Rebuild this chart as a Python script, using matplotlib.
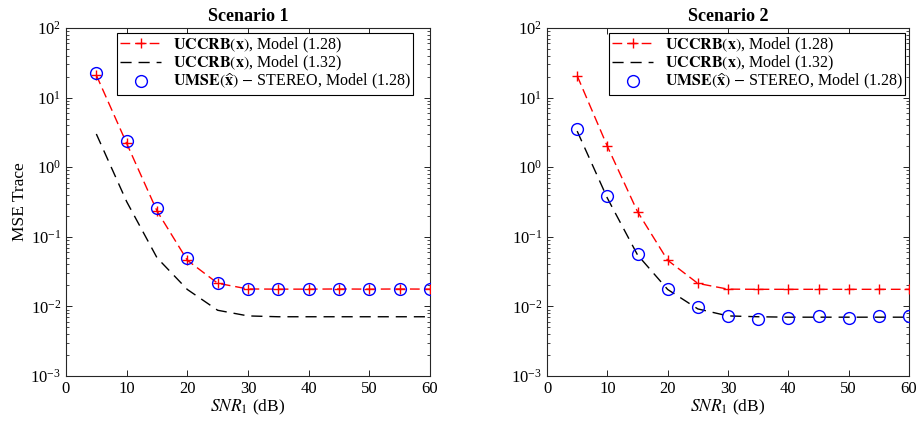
import matplotlib
matplotlib.use("Agg")
import matplotlib.pyplot as plt
from matplotlib.ticker import LogLocator, NullFormatter, FixedLocator

plt.rcParams['font.family'] = ['Liberation Serif', 'DejaVu Serif']
plt.rcParams['mathtext.fontset'] = 'stix'

snr = [5, 10, 15, 20, 25, 30, 35, 40, 45, 50, 55, 60]

# Scenario 1
red_1 = [21, 2.2, 0.235, 0.046, 0.0215, 0.0178, 0.0177, 0.0177, 0.0178, 0.0177, 0.0178, 0.0177]
black_1 = [3.0, 0.32, 0.050, 0.0175, 0.0088, 0.0073, 0.0071, 0.0071, 0.0071, 0.0071, 0.0071, 0.0071]
blue_1 = [22.5, 2.35, 0.257, 0.050, 0.0220, 0.0178, 0.0178, 0.0177, 0.0178, 0.0177, 0.0178, 0.0177]

# Scenario 2
red_2 = [20.6, 2.0, 0.23, 0.046, 0.0214, 0.0177, 0.0176, 0.0176, 0.0176, 0.0176, 0.0176, 0.0176]
black_2 = [3.3, 0.36, 0.055, 0.0175, 0.0092, 0.0073, 0.0071, 0.0070, 0.0070, 0.0070, 0.0070, 0.0070]
blue_2 = [3.56, 0.38, 0.057, 0.018, 0.0098, 0.0073, 0.0066, 0.0069, 0.0074, 0.0069, 0.0074, 0.0073]

titles = ["Scenario 1", "Scenario 2"]
labels = [r"$\mathbf{UCCRB}(\mathbf{x})$, Model (1.28)",
          r"$\mathbf{UCCRB}(\mathbf{x})$, Model (1.32)",
          r"$\mathbf{UMSE}(\widehat{\mathbf{x}})$ $-$ STEREO, Model (1.28)"]
xticks = [0, 10, 20, 30, 40, 50, 60]

W, H = 918, 425
fig = plt.figure(figsize=(W / 100, H / 100), dpi=100)

axes_px = [(66, 430), (547, 909)]
top, bottom = 28, 376
legend_anchor = [(413, 33), (905, 33)]

datasets = [(red_1, black_1, blue_1), (red_2, black_2, blue_2)]

for i, ((x0, x1), (red, black, blue)) in enumerate(zip(axes_px, datasets)):
    ax = fig.add_axes([x0 / W, (H - bottom) / H, (x1 - x0) / W, (bottom - top) / H])
    ax.semilogy(snr, red, color='red', linestyle=(0, (7, 3.5)), lw=1.0,
                marker='+', markersize=6.5, markeredgewidth=1.0, label=labels[0], zorder=3)
    ax.semilogy(snr, black, color='black', linestyle=(0, (8, 5)), lw=1.0,
                label=labels[1], zorder=2)
    ax.semilogy(snr, blue, linestyle='none', marker='o', markersize=8.5,
                markerfacecolor='none', markeredgecolor='blue', markeredgewidth=1.0,
                label=labels[2], zorder=4)
    ax.set_xlim(0, 60)
    ax.set_ylim(1e-3, 1e2)
    ax.xaxis.set_major_locator(FixedLocator(xticks))
    ax.set_xticklabels([str(t) for t in xticks])
    ax.yaxis.set_major_locator(LogLocator(base=10, numticks=10))
    ax.yaxis.set_minor_locator(LogLocator(base=10, subs=range(2, 10), numticks=20))
    ax.yaxis.set_minor_formatter(NullFormatter())
    ax.tick_params(which='both', direction='in', top=True, right=True, labelsize=12)
    ax.tick_params(which='major', length=4, width=0.6)
    ax.tick_params(which='minor', length=2.5, width=0.5)
    for s in ax.spines.values():
        s.set_linewidth(0.8)
        s.set_color('#262626')
    ax.set_title(titles[i], fontsize=13, fontweight='bold', pad=5)
    ax.set_xlabel(r"$SNR_1$ (dB)", fontsize=12.5, labelpad=1)
    if i == 0:
        ax.set_ylabel("MSE Trace", fontsize=12.5, labelpad=2)
    ax_w = x1 - x0
    ax_h = bottom - top
    ax_x = (legend_anchor[i][0] - x0) / ax_w
    ax_y = (bottom - legend_anchor[i][1]) / ax_h
    leg = ax.legend(loc='upper right', bbox_to_anchor=(ax_x, ax_y), borderaxespad=0,
                    fontsize=11.5, fancybox=False, framealpha=1, edgecolor='black',
                    handlelength=2.6, borderpad=0.15, labelspacing=-0.05, handletextpad=0.7)
    leg.get_frame().set_linewidth(0.8)

fig.savefig("out.png", dpi=100)
